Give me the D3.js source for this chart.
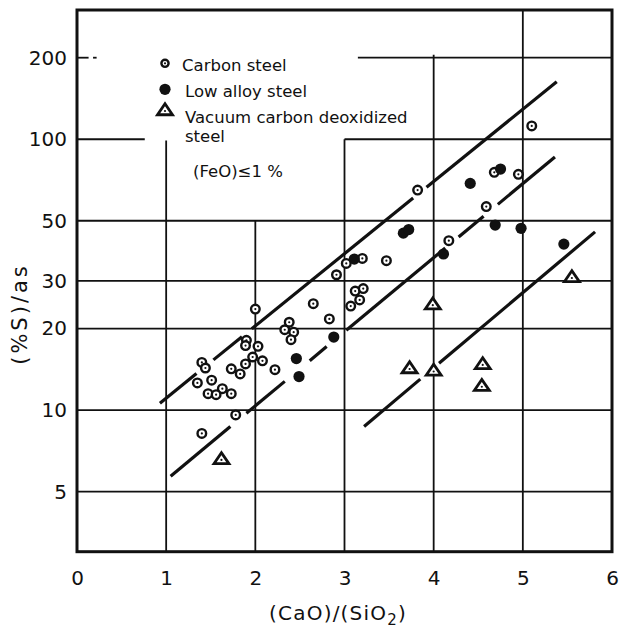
<!DOCTYPE html>
<html>
<head>
<meta charset="utf-8">
<script src="https://cdn.jsdelivr.net/npm/d3@7"></script>
<style>
  html, body { margin: 0; padding: 0; background: #fff; }
  svg { display: block; }
  text { font-family: "DejaVu Sans", sans-serif; fill: #111; }
</style>
</head>
<body>
<svg id="chart" width="619" height="630"></svg>
<script>
// Basicity (CaO)/(SiO2) vs sulphur distribution (%S)/as
const xTicks = [0, 1, 2, 3, 4, 5, 6];
const yTicks = [5, 10, 20, 30, 50, 100, 200];

// [basicity, (%S)/as]
const carbonSteel = [
  [2.00, 23.6], [1.90, 18.1], [1.89, 17.3], [2.03, 17.2], [1.97, 15.7],
  [2.08, 15.2], [1.89, 14.8], [1.73, 14.2], [1.83, 13.6], [2.22, 14.1],
  [1.40, 15.0], [1.44, 14.3], [1.35, 12.6], [1.51, 12.9], [1.63, 12.0],
  [1.47, 11.5], [1.56, 11.4], [1.73, 11.5], [1.78, 9.6], [1.40, 8.2],
  [2.38, 21.1], [2.33, 19.8], [2.43, 19.4], [2.40, 18.2], [2.65, 24.7],
  [2.83, 21.7], [2.91, 31.6], [3.02, 34.8], [3.20, 36.3], [3.12, 27.5],
  [3.21, 28.1], [3.17, 25.5], [3.07, 24.2], [3.47, 35.6], [3.82, 64.9],
  [4.17, 42.2], [4.59, 56.4], [4.68, 75.5], [4.95, 74.2], [5.10, 112]
];
const lowAlloySteel = [
  [2.46, 15.5], [2.49, 13.3], [2.88, 18.6], [3.11, 36.1], [3.66, 45.0],
  [3.72, 46.4], [4.11, 37.7], [4.41, 68.7], [4.75, 77.6], [4.69, 48.2],
  [4.98, 46.9], [5.46, 41.0]
];
const vacuumSteel = [
  [1.62, 6.6], [3.73, 14.3], [4.00, 14.0], [3.99, 24.6],
  [4.55, 14.8], [4.54, 12.3], [5.55, 31.0]
];

// Three parallel trend lines: end points and the stretches left open around points
const upperFit = { from: [0.93, 10.6], to: [5.38, 163], gaps: [[1.34, 1.53], [1.85, 1.96], [3.77, 3.92]] };
const middleFit = { from: [1.05, 5.7], to: [5.36, 86], gaps: [[1.72, 1.90], [2.33, 2.61], [2.80, 3.02], [4.13, 4.28], [4.56, 4.72]] };
const lowerFit = { from: [3.22, 8.7], to: [5.81, 45.5], gaps: [[3.85, 4.06]] };

// Grid lines: value and the extents they are drawn over
const hGrid = [
  { v: 200, spans: [[0, 0.13], [0.18, 0.22], [3.15, 6]] },
  { v: 100, spans: [[0, 0.76], [3, 6]] },
  { v: 50, spans: [[0, 6]] },
  { v: 30, spans: [[0, 6]] },
  { v: 20, spans: [[0, 6]] },
  { v: 10, spans: [[0, 6]] },
  { v: 5, spans: [[0, 6]] }
];
const vGrid = [
  { v: 1, spans: [[3, 99]] },
  { v: 2, spans: [[3, 50]] },
  { v: 3, spans: [[3, 100]] },
  { v: 4, spans: [[3, 205]] },
  { v: 5, spans: [[3, 300]] }
];

const legendItems = [
  { kind: "open", label: ["Carbon steel"] },
  { kind: "filled", label: ["Low alloy steel"] },
  { kind: "triangle", label: ["Vacuum carbon deoxidized", "steel"] }
];

const svg = d3.select("#chart");
const x = d3.scaleLinear().domain([0, 6]).range([77, 612]);
const y = d3.scaleLog().domain([3, 300]).range([551.7, 10]);

// grid
const grid = svg.append("g").attr("stroke", "#111").attr("stroke-width", 1.8);
hGrid.forEach(g => g.spans.forEach(s => {
  grid.append("line").attr("x1", x(s[0])).attr("x2", x(s[1]))
    .attr("y1", y(g.v)).attr("y2", y(g.v));
}));
vGrid.forEach(g => g.spans.forEach(s => {
  grid.append("line").attr("x1", x(g.v)).attr("x2", x(g.v))
    .attr("y1", y(s[0])).attr("y2", y(s[1]));
}));

// frame
svg.append("rect")
  .attr("x", x(0)).attr("y", y(300))
  .attr("width", x(6) - x(0)).attr("height", y(3) - y(300))
  .attr("fill", "none").attr("stroke", "#111").attr("stroke-width", 3);

// trend lines, split at their gaps (log-linear in y)
function fitSegments(f) {
  const [x0, y0] = f.from, [x1, y1] = f.to;
  const at = xv => Math.pow(10, Math.log10(y0) + (Math.log10(y1) - Math.log10(y0)) * (xv - x0) / (x1 - x0));
  const cuts = [x0];
  f.gaps.forEach(g => cuts.push(g[0], g[1]));
  cuts.push(x1);
  const segs = [];
  for (let i = 0; i < cuts.length; i += 2) segs.push([[cuts[i], at(cuts[i])], [cuts[i + 1], at(cuts[i + 1])]]);
  return segs;
}
const lineGen = d3.line().x(d => x(d[0])).y(d => y(d[1]));
[upperFit, middleFit, lowerFit].forEach(f => {
  svg.append("g").selectAll("path").data(fitSegments(f)).join("path")
    .attr("d", lineGen).attr("fill", "none").attr("stroke", "#111").attr("stroke-width", 3.2);
});

// marker glyphs
function drawOpen(g, cx, cy, r = 4.3) {
  g.append("circle").attr("cx", cx).attr("cy", cy).attr("r", r)
    .attr("fill", "#fff").attr("stroke", "#111").attr("stroke-width", 2.4);
  g.append("circle").attr("cx", cx).attr("cy", cy).attr("r", 1.1).attr("fill", "#111");
}
function drawFilled(g, cx, cy) {
  g.append("circle").attr("cx", cx).attr("cy", cy).attr("r", 5.6).attr("fill", "#111");
}
function drawTriangle(g, cx, cy) {
  const w = 15, h = 10.5;
  g.append("path")
    .attr("d", `M${cx - w / 2},${cy + h * 0.45}L${cx},${cy - h * 0.6}L${cx + w / 2},${cy + h * 0.45}Z`)
    .attr("fill", "#fff").attr("stroke", "#111").attr("stroke-width", 2.8).attr("stroke-linejoin", "miter");
  g.append("circle").attr("cx", cx).attr("cy", cy + 1).attr("r", 1.1).attr("fill", "#111");
}

const marks = svg.append("g");
carbonSteel.forEach(d => drawOpen(marks, x(d[0]), y(d[1])));
lowAlloySteel.forEach(d => drawFilled(marks, x(d[0]), y(d[1])));
vacuumSteel.forEach(d => drawTriangle(marks, x(d[0]), y(d[1])));

// axes
const yAxis = svg.append("g").attr("transform", `translate(${x(0)},0)`)
  .call(d3.axisLeft(y).tickValues(yTicks).tickSize(0).tickPadding(10).tickFormat(d3.format("d")));
yAxis.select(".domain").remove();
yAxis.selectAll("text").style("font-size", "20px").attr("font-family", "DejaVu Sans");

const xAxis = svg.append("g").attr("transform", `translate(0,${y(3)})`)
  .call(d3.axisBottom(x).tickValues(xTicks).tickSize(0).tickPadding(19).tickFormat(d3.format("d")));
xAxis.select(".domain").remove();
xAxis.selectAll("text").style("font-size", "20px").attr("font-family", "DejaVu Sans");

// axis titles
const xt = svg.append("text").attr("x", 338).attr("y", 620).attr("text-anchor", "middle")
  .style("font-size", "20px").style("letter-spacing", "1.2px");
xt.append("tspan").text("(CaO)/(SiO");
xt.append("tspan").text("2").style("font-size", "15px").attr("dy", 5);
xt.append("tspan").text(")").attr("dy", -5);

svg.append("text").attr("transform", "translate(27,314) rotate(-90)")
  .attr("text-anchor", "middle").style("font-size", "21px").style("letter-spacing", "3px")
  .text("(%S)/as");

// legend
const legend = svg.append("g");
const legendRows = [63.3, 89.3, 110];
const legendBase = [70.5, 96.5, 122.5];
legendItems.forEach((item, i) => {
  if (item.kind === "open") drawOpen(legend, 165, legendRows[i], 3.6);
  if (item.kind === "filled") drawFilled(legend, 165, legendRows[i]);
  if (item.kind === "triangle") drawTriangle(legend, 165, legendRows[i]);
  item.label.forEach((t, j) => {
    legend.append("text").attr("x", i === 0 ? 182 : 185).attr("y", legendBase[i] + j * 19)
      .style("font-size", "16.5px").text(t);
  });
});
legend.append("text").attr("x", 193).attr("y", 176.5).style("font-size", "16.5px").text("(FeO)≤1 %");
</script>
</body>
</html>
